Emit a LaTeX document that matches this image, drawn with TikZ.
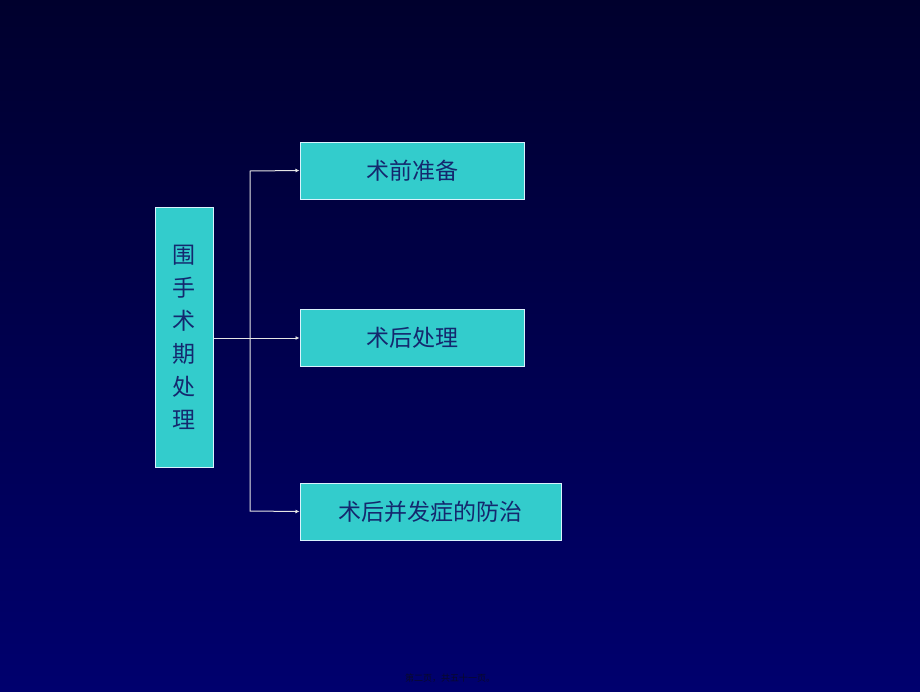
\documentclass[tikz,border=0pt]{standalone}
\usepackage{fontspec}
\usetikzlibrary{arrows.meta}
\newfontfamily\cjk{Noto Sans CJK SC}
\begin{document}
\begin{tikzpicture}[x=1pt,y=-1pt,
  box/.style={draw=white!85!cyan,line width=1pt,fill={rgb,255:red,51;green,204;blue,204},inner sep=0pt,
    font=\cjk\fontsize{23}{33}\selectfont,text={rgb,255:red,20;green,40;blue,110}},
  conn/.style={draw=white!80!gray,line width=1pt},
  tip/.style={-{Latex[length=4pt,width=4pt]}}]
\shade[top color={rgb,255:red,0;green,0;blue,45},bottom color={rgb,255:red,0;green,0;blue,110}] (0,0) rectangle (920,691);
\useasboundingbox (0,0) rectangle (920,691);
\node[box,minimum width=58,minimum height=260,align=center] (L) at (184,337) {围\\手\\术\\期\\处\\理};
\node[box,minimum width=224,minimum height=57] (A) at (412,170.5) {术前准备};
\node[box,minimum width=224,minimum height=57] (B) at (412,337.5) {术后处理};
\node[box,minimum width=261,minimum height=57] (C) at (430.5,511.5) {术后并发症的防治};
\coordinate (J) at (250,338);
\draw[conn,tip] (L.east |- J) -- (B.west |- J);
\draw[conn,tip] (J) -- (250,171) -- (A.west);
\draw[conn,tip] (J) -- (250,511) -- (C.west);
\node[font=\cjk\fontsize{9}{10}\selectfont,text={rgb,255:red,10;green,10;blue,40}] (P) at (450,678) {第二页，共五十一页。};
\end{tikzpicture}
\end{document}
